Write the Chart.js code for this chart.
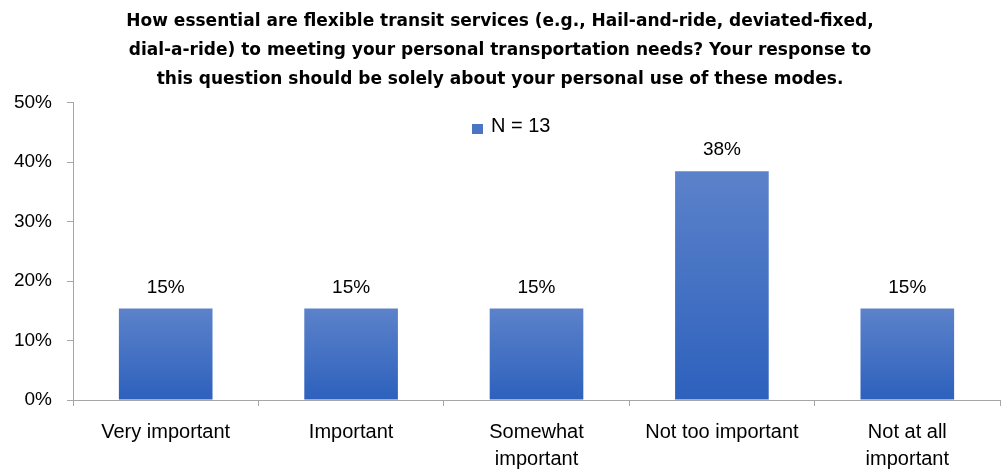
<!DOCTYPE html>
<html>
<head>
<meta charset="utf-8">
<script src="https://cdn.jsdelivr.net/npm/chart.js@4/dist/chart.umd.min.js"></script>
<style>
html,body{margin:0;padding:0;background:#fff;}
#wrap{width:1005px;height:473px;position:relative;}
</style>
</head>
<body>
<div id="wrap"><canvas id="c" width="1005" height="473"></canvas></div>
<script>
const categories = [["Very important"], ["Important"], ["Somewhat", "important"], ["Not too important"], ["Not at all", "important"]];
const seriesLabel = "N = 13";
const values = [15.38, 15.38, 15.38, 38.46, 15.38];
const yTicks = [0, 10, 20, 30, 40, 50];
const titleLines = [
  "How essential are flexible transit services (e.g., Hail-and-ride, deviated-fixed,",
  "dial-a-ride) to meeting your personal transportation needs? Your response to",
  "this question should be solely about your personal use of these modes."
];

const FONT = "'Liberation Sans', Arial, sans-serif";

function barGradient(c) {
  const chart = c.chart;
  const ys = chart.scales && chart.scales.y;
  if (!ys || !chart.chartArea || c.raw === undefined) return '#3f6cc2';
  const top = ys.getPixelForValue(c.raw);
  const base = ys.getPixelForValue(0);
  const g = chart.ctx.createLinearGradient(0, top, 0, base);
  g.addColorStop(0, '#5c82ca');
  g.addColorStop(1, '#2d61bd');
  return g;
}

const labelPlugin = {
  id: 'valueLabels',
  afterDatasetsDraw(chart) {
    const ctx = chart.ctx;
    ctx.save();
    ctx.font = "19px " + FONT;
    ctx.fillStyle = '#000';
    ctx.textAlign = 'center';
    ctx.textBaseline = 'alphabetic';
    const ds = chart.data.datasets[0];
    chart.getDatasetMeta(0).data.forEach((el, i) => {
      ctx.fillText(Math.round(ds.data[i]) + '%', el.x, el.y - 16);
    });
    // legend
    ctx.fillStyle = '#4a74c4';
    ctx.fillRect(472, 124, 11, 10);
    ctx.fillStyle = '#000';
    ctx.textAlign = 'left';
    ctx.font = "20px " + FONT;
    ctx.fillText(ds.label, 491, 132);
    ctx.restore();
  }
};

new Chart(document.getElementById('c'), {
  type: 'bar',
  data: {
    labels: categories,
    datasets: [{
      label: seriesLabel,
      data: values,
      backgroundColor: barGradient,
      categoryPercentage: 1.0,
      barPercentage: 0.505
    }]
  },
  options: {
    responsive: false,
    animation: false,
    devicePixelRatio: 1,
    layout: { padding: { left: 0, right: 5, top: 0, bottom: 0 } },
    plugins: {
      legend: { display: false },
      tooltip: { enabled: false },
      title: {
        display: true,
        text: titleLines,
        color: '#000',
        font: { family: "'DejaVu Sans', sans-serif", size: 17, weight: 'bold', lineHeight: 1.7 },
        padding: { top: 7, bottom: 9 }
      }
    },
    scales: {
      x: {
        afterFit(axis) { axis.height = 73; },
        grid: { display: true, drawOnChartArea: false, offset: true, color: '#a6a6a6', tickLength: 6 },
        border: { color: '#a6a6a6' },
        ticks: { color: '#000', font: { family: FONT, size: 20, lineHeight: 1.35 }, padding: 13, maxRotation: 0, autoSkip: false }
      },
      y: {
        min: 0, max: 50,
        afterBuildTicks(axis) { axis.ticks = yTicks.map(v => ({ value: v })); },
        afterFit(axis) { axis.width = 73; },
        grid: { display: true, drawOnChartArea: false, color: '#a6a6a6', tickLength: 6 },
        border: { color: '#a6a6a6' },
        ticks: { color: '#000', font: { family: FONT, size: 19 }, padding: 15, callback: v => v + '%' }
      }
    }
  },
  plugins: [labelPlugin]
});
</script>
</body>
</html>
